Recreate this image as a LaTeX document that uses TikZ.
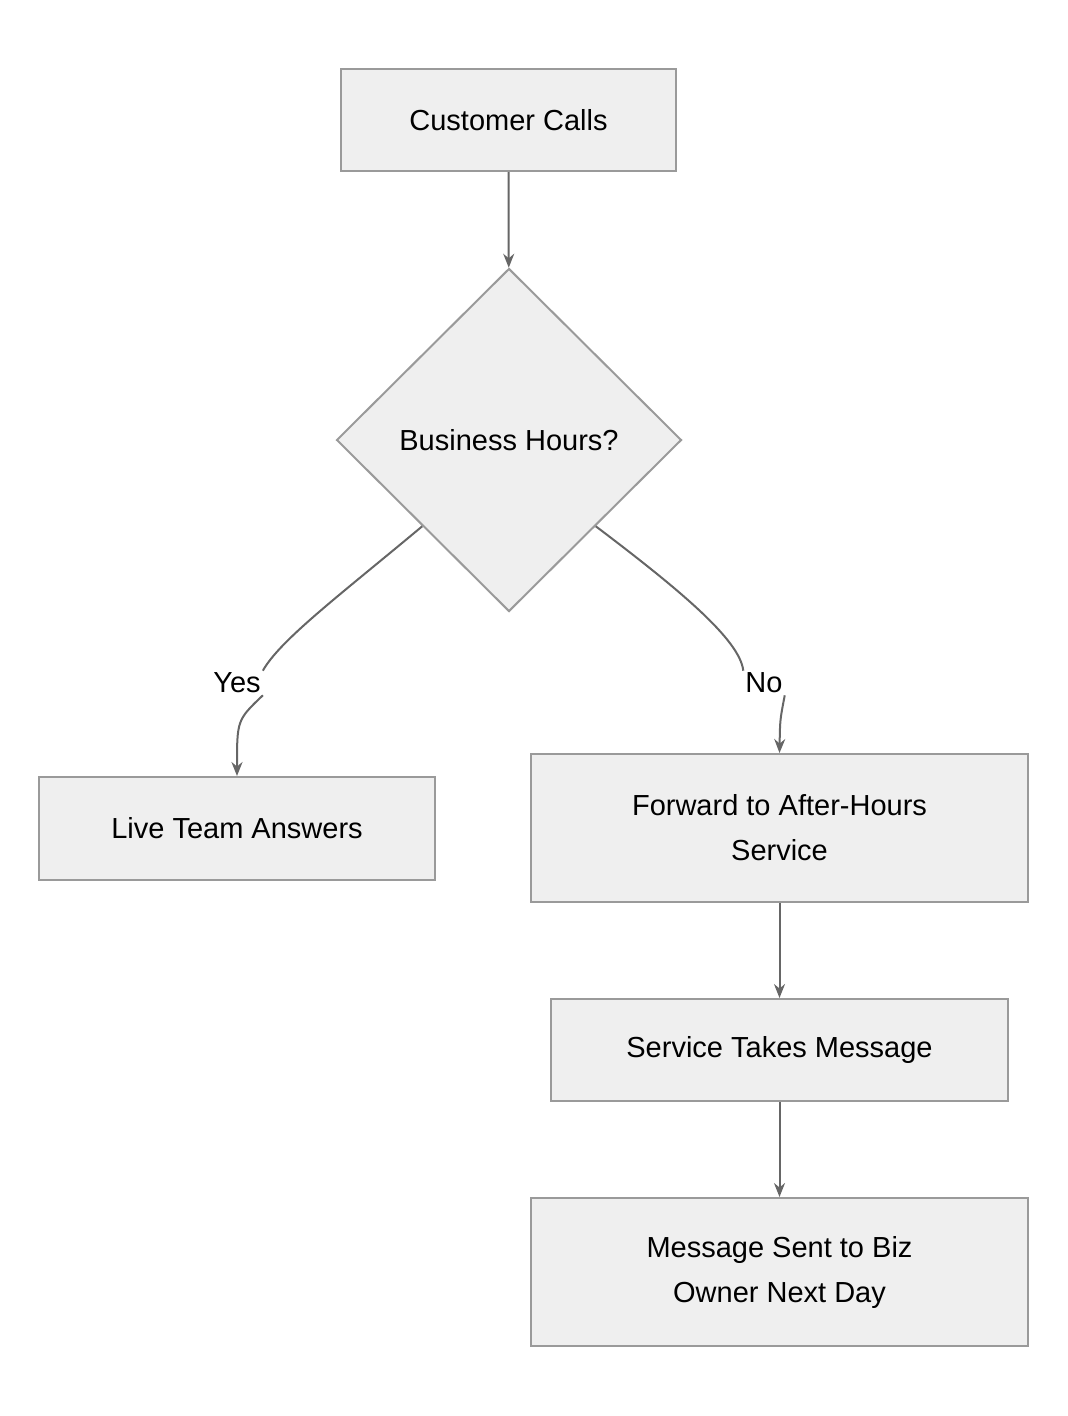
\documentclass[tikz,border=0pt]{standalone}
\usepackage{fontspec}
\setmainfont{Liberation Sans}
\usetikzlibrary{positioning,shapes.geometric,arrows.meta}
\definecolor{boxfill}{HTML}{EFEFEF}
\definecolor{boxline}{HTML}{9A9A9A}
\definecolor{arrowline}{HTML}{666666}
\tikzset{>={Stealth[length=14pt,width=11pt]}}
\tikzset{
    process/.style={rectangle,draw=boxline,fill=boxfill,line width=2pt,inner sep=0pt,align=center,font=\fontsize{29}{45}\selectfont},
    decision/.style={diamond,draw=boxline,fill=boxfill,line width=2pt,inner sep=0pt,minimum width=345pt,minimum height=343pt,font=\fontsize{29}{45}\selectfont},
    edgelabel/.style={inner sep=2pt,font=\fontsize{29}{35}\selectfont},
    flow/.style={draw=arrowline,line width=2pt,->},
    plain/.style={draw=arrowline,line width=2pt},
}
\begin{document}
\begin{tikzpicture}[x=1pt,y=-1pt]
	\useasboundingbox (0,0) rectangle (1068,1416);
	\node[process,minimum width=335pt,minimum height=102pt] (calls) at (508.5,120) {Customer Calls};
	\node[decision] (hours) at (509,440) {Business Hours?};
	\node[process,minimum width=396pt,minimum height=103pt] (live) at (237,828.5) {Live Team Answers};
	\node[process,minimum width=497pt,minimum height=148pt] (forward) at (779.5,828) {Forward to After-Hours\\Service};
	\node[process,minimum width=457pt,minimum height=102pt] (takes) at (779.5,1050) {Service Takes Message};
	\node[process,minimum width=497pt,minimum height=148pt] (sent) at (779.5,1272) {Message Sent to Biz\\Owner Next Day};
	\node[edgelabel] (yes) at (237,683) {Yes};
	\node[edgelabel] (no) at (764,683) {No};

	\draw[flow] (calls) -- (hours);
	\draw[plain] (hours.south west) .. controls (340,595) and (280,640) .. (yes.north east);
	\draw[flow] (yes.south east) .. controls (237,720) .. (live.north);
	\draw[plain] (hours.south east) .. controls (680,590) and (740,640) .. (no.north west);
	\draw[flow] (no.south east) .. controls (780,720) .. (forward.north);
	\draw[flow] (forward) -- (takes);
	\draw[flow] (takes) -- (sent);
\end{tikzpicture}
\end{document}
